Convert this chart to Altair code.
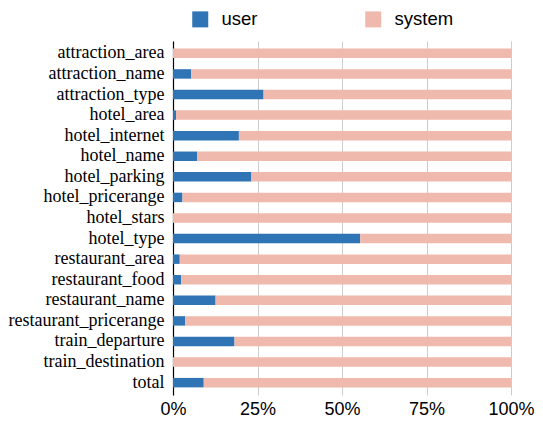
import altair as alt
import pandas as pd

slots = ["attraction_area", "attraction_name", "attraction_type", "hotel_area",
         "hotel_internet", "hotel_name", "hotel_parking", "hotel_pricerange",
         "hotel_stars", "hotel_type", "restaurant_area", "restaurant_food",
         "restaurant_name", "restaurant_pricerange", "train_departure",
         "train_destination", "total"]
user_pct = [0.0, 5.4, 26.8, 0.9, 19.5, 7.1, 23.2, 2.8, 0.0, 55.4, 2.0, 2.4,
            12.6, 3.6, 18.2, 0.0, 9.1]
sources = ["user", "system"]
colors = ["#2f75b5", "#f0b9ad"]

rows = []
for s, u in zip(slots, user_pct):
    rows.append({"slot": s, "source": "user", "value": u, "ord": 0})
    rows.append({"slot": s, "source": "system", "value": 100 - u, "ord": 1})
df = pd.DataFrame(rows)

chart = alt.Chart(df).mark_bar().encode(
    y=alt.Y("slot:N", sort=slots, title=None,
            scale=alt.Scale(paddingInner=0.54, paddingOuter=0.37),
            axis=alt.Axis(domain=True, domainColor="black", domainWidth=1.2,
                          ticks=False, grid=False, labelFont="Liberation Serif",
                          labelFontSize=18, labelColor="black", labelPadding=9,
                          labelLimit=300)),
    x=alt.X("value:Q", stack="normalize", title=None,
            scale=alt.Scale(domain=[0, 1], nice=False),
            axis=alt.Axis(format="%", values=[0, 0.25, 0.5, 0.75, 1], domain=False,
                          ticks=False, grid=True, gridColor="#cccccc",
                          labelFont="Liberation Sans", labelFontSize=18,
                          labelColor="black", labelPadding=5, labelFlush=False)),
    color=alt.Color("source:N", sort=sources,
                    scale=alt.Scale(domain=sources, range=colors),
                    legend=alt.Legend(title=None, orient="none", direction="horizontal",
                                      legendX=18, legendY=-31, padding=0,
                                      symbolType="square",
                                      symbolSize=256, symbolStrokeWidth=0,
                                      labelFont="Liberation Sans", labelFontSize=18.5,
                                      labelColor="black", columnPadding=106,
                                      labelOffset=12)),
    order=alt.Order("ord:Q"),
).properties(width=338, height=354,
             padding={"left": 0, "top": 2, "right": 0, "bottom": 0}
).configure_view(stroke=None)

chart.save("out.html", embed_options={"renderer": "svg", "actions": False})
